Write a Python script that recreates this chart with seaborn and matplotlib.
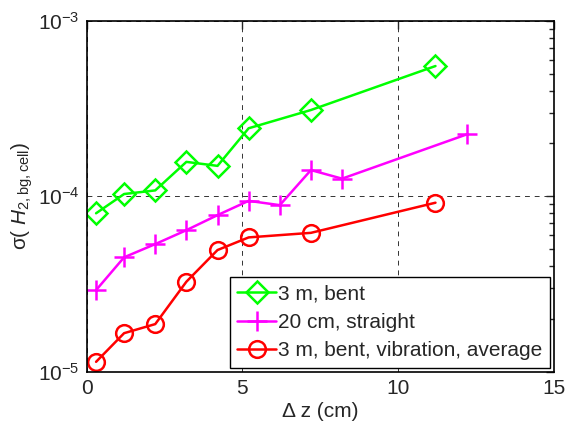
import pandas as pd
import seaborn as sns
import matplotlib.pyplot as plt
import numpy as np

# data
dz_bent = [0.3, 1.2, 2.2, 3.2, 4.2, 5.2, 7.2, 11.2]
sigma_bent = [8.0e-5, 1.03e-4, 1.08e-4, 1.57e-4, 1.49e-4, 2.44e-4, 3.10e-4, 5.52e-4]

dz_straight = [0.3, 1.2, 2.2, 3.2, 4.2, 5.2, 6.2, 7.2, 8.2, 12.2]
sigma_straight = [2.92e-5, 4.49e-5, 5.34e-5, 6.41e-5, 7.81e-5, 9.42e-5, 8.9e-5, 1.41e-4, 1.26e-4, 2.25e-4]

dz_vib = [0.3, 1.2, 2.2, 3.2, 4.2, 5.2, 7.2, 11.2]
sigma_vib = [1.14e-5, 1.66e-5, 1.87e-5, 3.26e-5, 4.94e-5, 5.83e-5, 6.19e-5, 9.19e-5]

labels = ["3 m, bent", "20 cm, straight", "3 m, bent, vibration, average"]

sns.set_style("white")
plt.rcParams['font.family'] = ['Liberation Sans', 'DejaVu Sans']
plt.rcParams['mathtext.fontset'] = 'custom'
plt.rcParams['mathtext.rm'] = 'Liberation Sans'
plt.rcParams['mathtext.it'] = 'Liberation Sans:italic'
plt.rcParams['font.size'] = 15

fig = plt.figure(figsize=(5.68, 4.23), dpi=100)
ax = fig.add_axes([0.1527, 0.121, 0.8223, 0.830])

series = [
    (dz_bent, sigma_bent, labels[0], (0, 1, 0), "D", 11),
    (dz_straight, sigma_straight, labels[1], (1, 0, 1), "+", 14),
    (dz_vib, sigma_vib, labels[2], (1, 0, 0), "o", 12),
]
for xs, ys, lab, col, mk, ms in series:
    df = pd.DataFrame({"dz": xs, "sigma": ys})
    sns.lineplot(x="dz", y="sigma", data=df, ax=ax, color=col, marker=mk,
                 markersize=ms, fillstyle="none", markeredgewidth=1.8,
                 markeredgecolor=col, linewidth=1.8, label=lab, sort=False)

ax.set_yscale("log")
ax.set_xlim(0, 15)
ax.set_ylim(1e-5, 1e-3)
ax.set_xticks([0, 5, 10, 15])
ax.set_xticklabels(["0", "5", "10", "15"])
ax.grid(True, which="major", linestyle=(0, (5, 5)), color="k", linewidth=0.7, alpha=0.8)
ax.tick_params(which="both", direction="in", top=True, right=True, labelsize=15)
ax.tick_params(which="major", length=6, width=1, pad=5)
ax.tick_params(which="minor", length=3.5, width=1)
for s in ax.spines.values():
    s.set_linewidth(1.2)
    s.set_color("k")

ax.set_xlabel("Δ z (cm)", fontsize=15, labelpad=3)
ax.set_ylabel(r"σ( $\mathit{H}_{\mathrm{2,bg,cell}}$)", fontsize=15, labelpad=2)

leg = ax.legend(loc="lower right", fontsize=15, frameon=True, fancybox=False,
                edgecolor="k", borderpad=0.35, labelspacing=0.45, handlelength=1.85,
                handletextpad=0.1, borderaxespad=0.2, framealpha=1)
leg.get_frame().set_linewidth(1.0)

fig.savefig("out.png", dpi=100)
